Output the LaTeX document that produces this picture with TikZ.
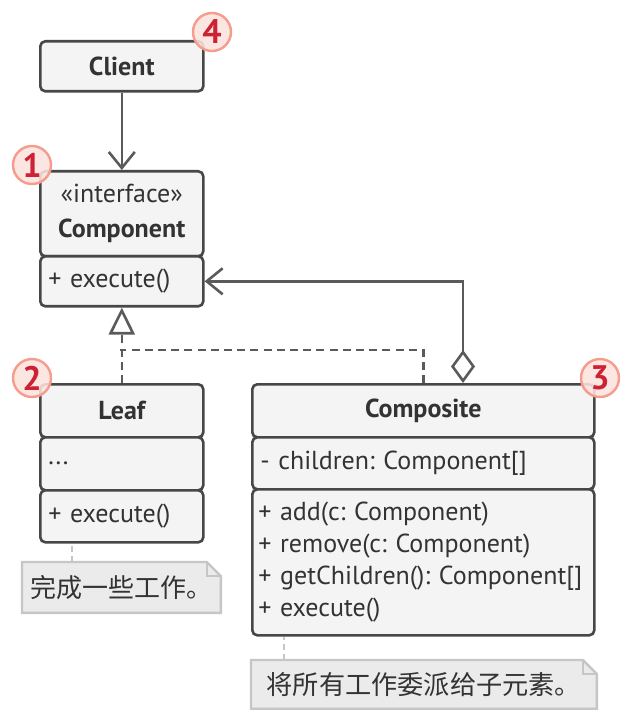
\documentclass[tikz,border=0pt]{standalone}
\usepackage{fontspec}
\setmainfont{PT Sans}
\newfontfamily\cjk{Noto Sans CJK SC}
\usetikzlibrary{positioning,arrows.meta,backgrounds}

\definecolor{boxfill}{HTML}{F4F4F4}
\definecolor{boxline}{HTML}{474747}
\definecolor{textgray}{HTML}{333333}
\definecolor{linkgray}{HTML}{5A5A5A}
\definecolor{badgefill}{HTML}{FCE3DE}
\definecolor{badgeline}{HTML}{F59C8D}
\definecolor{badgetext}{HTML}{CC2233}
\definecolor{notefill}{HTML}{EBEBEB}
\definecolor{noteline}{HTML}{C6C6C6}

\frenchspacing
\hyphenpenalty=10000
\newcommand\umlfont{\fontsize{13}{17}\selectfont}

\tikzset{
  section/.style={draw=boxline, fill=boxfill, line width=1.3pt, rounded corners=2.5pt,
    anchor=north west, inner xsep=4pt, inner ysep=0pt, text=textgray, font=\umlfont},
  title/.style={section, align=center, font=\umlfont\bfseries},
  member/.style={section, align=left},
  badge/.style={circle, minimum size=19pt, inner sep=0pt, fill=badgefill, fill opacity=0.88,
    text opacity=1, draw=badgeline, line width=1.2pt, text=badgetext,
    font=\fontsize{17}{17}\selectfont\bfseries},
  link/.style={draw=linkgray, line width=1.3pt},
  realize/.style={link, dash pattern=on 4pt off 2.6pt},
  note/.style={anchor=north west, inner xsep=4pt, inner ysep=0pt, align=left,
    text=textgray, font=\cjk\fontsize{13}{15}\selectfont},
  notebox/.style={draw=noteline, fill=notefill, line width=1.2pt},
  notelink/.style={draw=noteline, line width=1.2pt, dash pattern=on 3pt off 2pt},
}

\begin{document}
\begin{tikzpicture}[x=0.5pt, y=-0.5pt]
  \useasboundingbox (0,0) rectangle (623,710);

  % client
  \node[title, minimum width=81.5pt, minimum height=25pt] (client) at (39,40) {Client};

  % component interface
  \node[title, minimum width=81.5pt, minimum height=42.5pt, font=\umlfont] (compHead) at (39,170)
    {«interface»\\[0.5pt]\textbf{Component}};
  \node[member, text width=73.5pt, minimum height=25pt] (compOps) at (39,255) {+ execute()};

  % leaf
  \node[title, minimum width=81.5pt, minimum height=26.5pt] (leafTitle) at (39,383) {Leaf};
  \node[member, text width=73.5pt, minimum height=26.5pt] (leafAttrs) at (39,436) {...};
  \node[member, text width=73.5pt, minimum height=26pt] (leafOps) at (39,489) {+ execute()};

  % composite
  \node[title, minimum width=171pt, minimum height=26.5pt] (compositeTitle) at (251,383) {Composite};
  \node[member, text width=163pt, minimum height=26pt] (compositeAttrs) at (251,436)
    {- children: Component[]};
  \node[member, inner xsep=3pt, text width=165pt, minimum height=73pt, font=\fontsize{13}{16}\selectfont]
    (compositeOps) at (251,488)
    {+ add(c: Component)\\+ remove(c: Component)\\+ getChildren(): Component[]\\+ execute()};

  % notes
  \node[note, minimum width=98pt, minimum height=25pt] (leafNote) at (22,562) {完成一些工作。};
  \node[note, minimum width=172.5pt, minimum height=24pt, inner xsep=6.5pt, font=\cjk\fontsize{13.1}{15}\selectfont]
    (compositeNote) at (251,660) {将所有工作委派给子元素。};
  \begin{scope}[on background layer]
    \foreach \n in {leafNote, compositeNote}{
      \draw[notebox] (\n.north west) -- ([xshift=-7pt]\n.north east) -- ([yshift=-7pt]\n.north east)
        -- (\n.south east) -- (\n.south west) -- cycle;
      \draw[noteline, line width=1.2pt] ([xshift=-7pt]\n.north east) |- ([yshift=-7pt]\n.north east);
    }
  \end{scope}

  \path ([xshift=25pt]leafNote.north west) coordinate (leafPin);
  \path ([xshift=16.5pt]compositeNote.north west) coordinate (compositePin);
  \draw[notelink] (leafPin) -- (leafPin |- leafOps.south);
  \draw[notelink] (compositePin) -- (compositePin |- compositeOps.south);

  % connectors
  \draw[link, -{Straight Barb[length=8pt, width=13pt]}] (client) -- (compHead);
  \draw[realize, -{Triangle[open, length=13.5pt, width=13pt, line width=1.3pt]}]
    (leafTitle.north) -- (compOps.south);
  \coordinate (join) at (120,350);
  \draw[realize] (compositeTitle.north) |- (join);
  \coordinate (aggr) at (463,383);
  \draw[link, {Diamond[open, length=16.5pt, width=12pt]}-{Straight Barb[length=8pt, width=13pt]}]
    (aggr) |- (compOps.east);

  % badges
  \node[badge] (badge4) at (212,32) {4};
  \node[badge] (badge1) at (32,165) {1};
  \node[badge] (badge2) at (32,378) {2};
  \node[badge] (badge3) at (600,378) {3};
\end{tikzpicture}
\end{document}
